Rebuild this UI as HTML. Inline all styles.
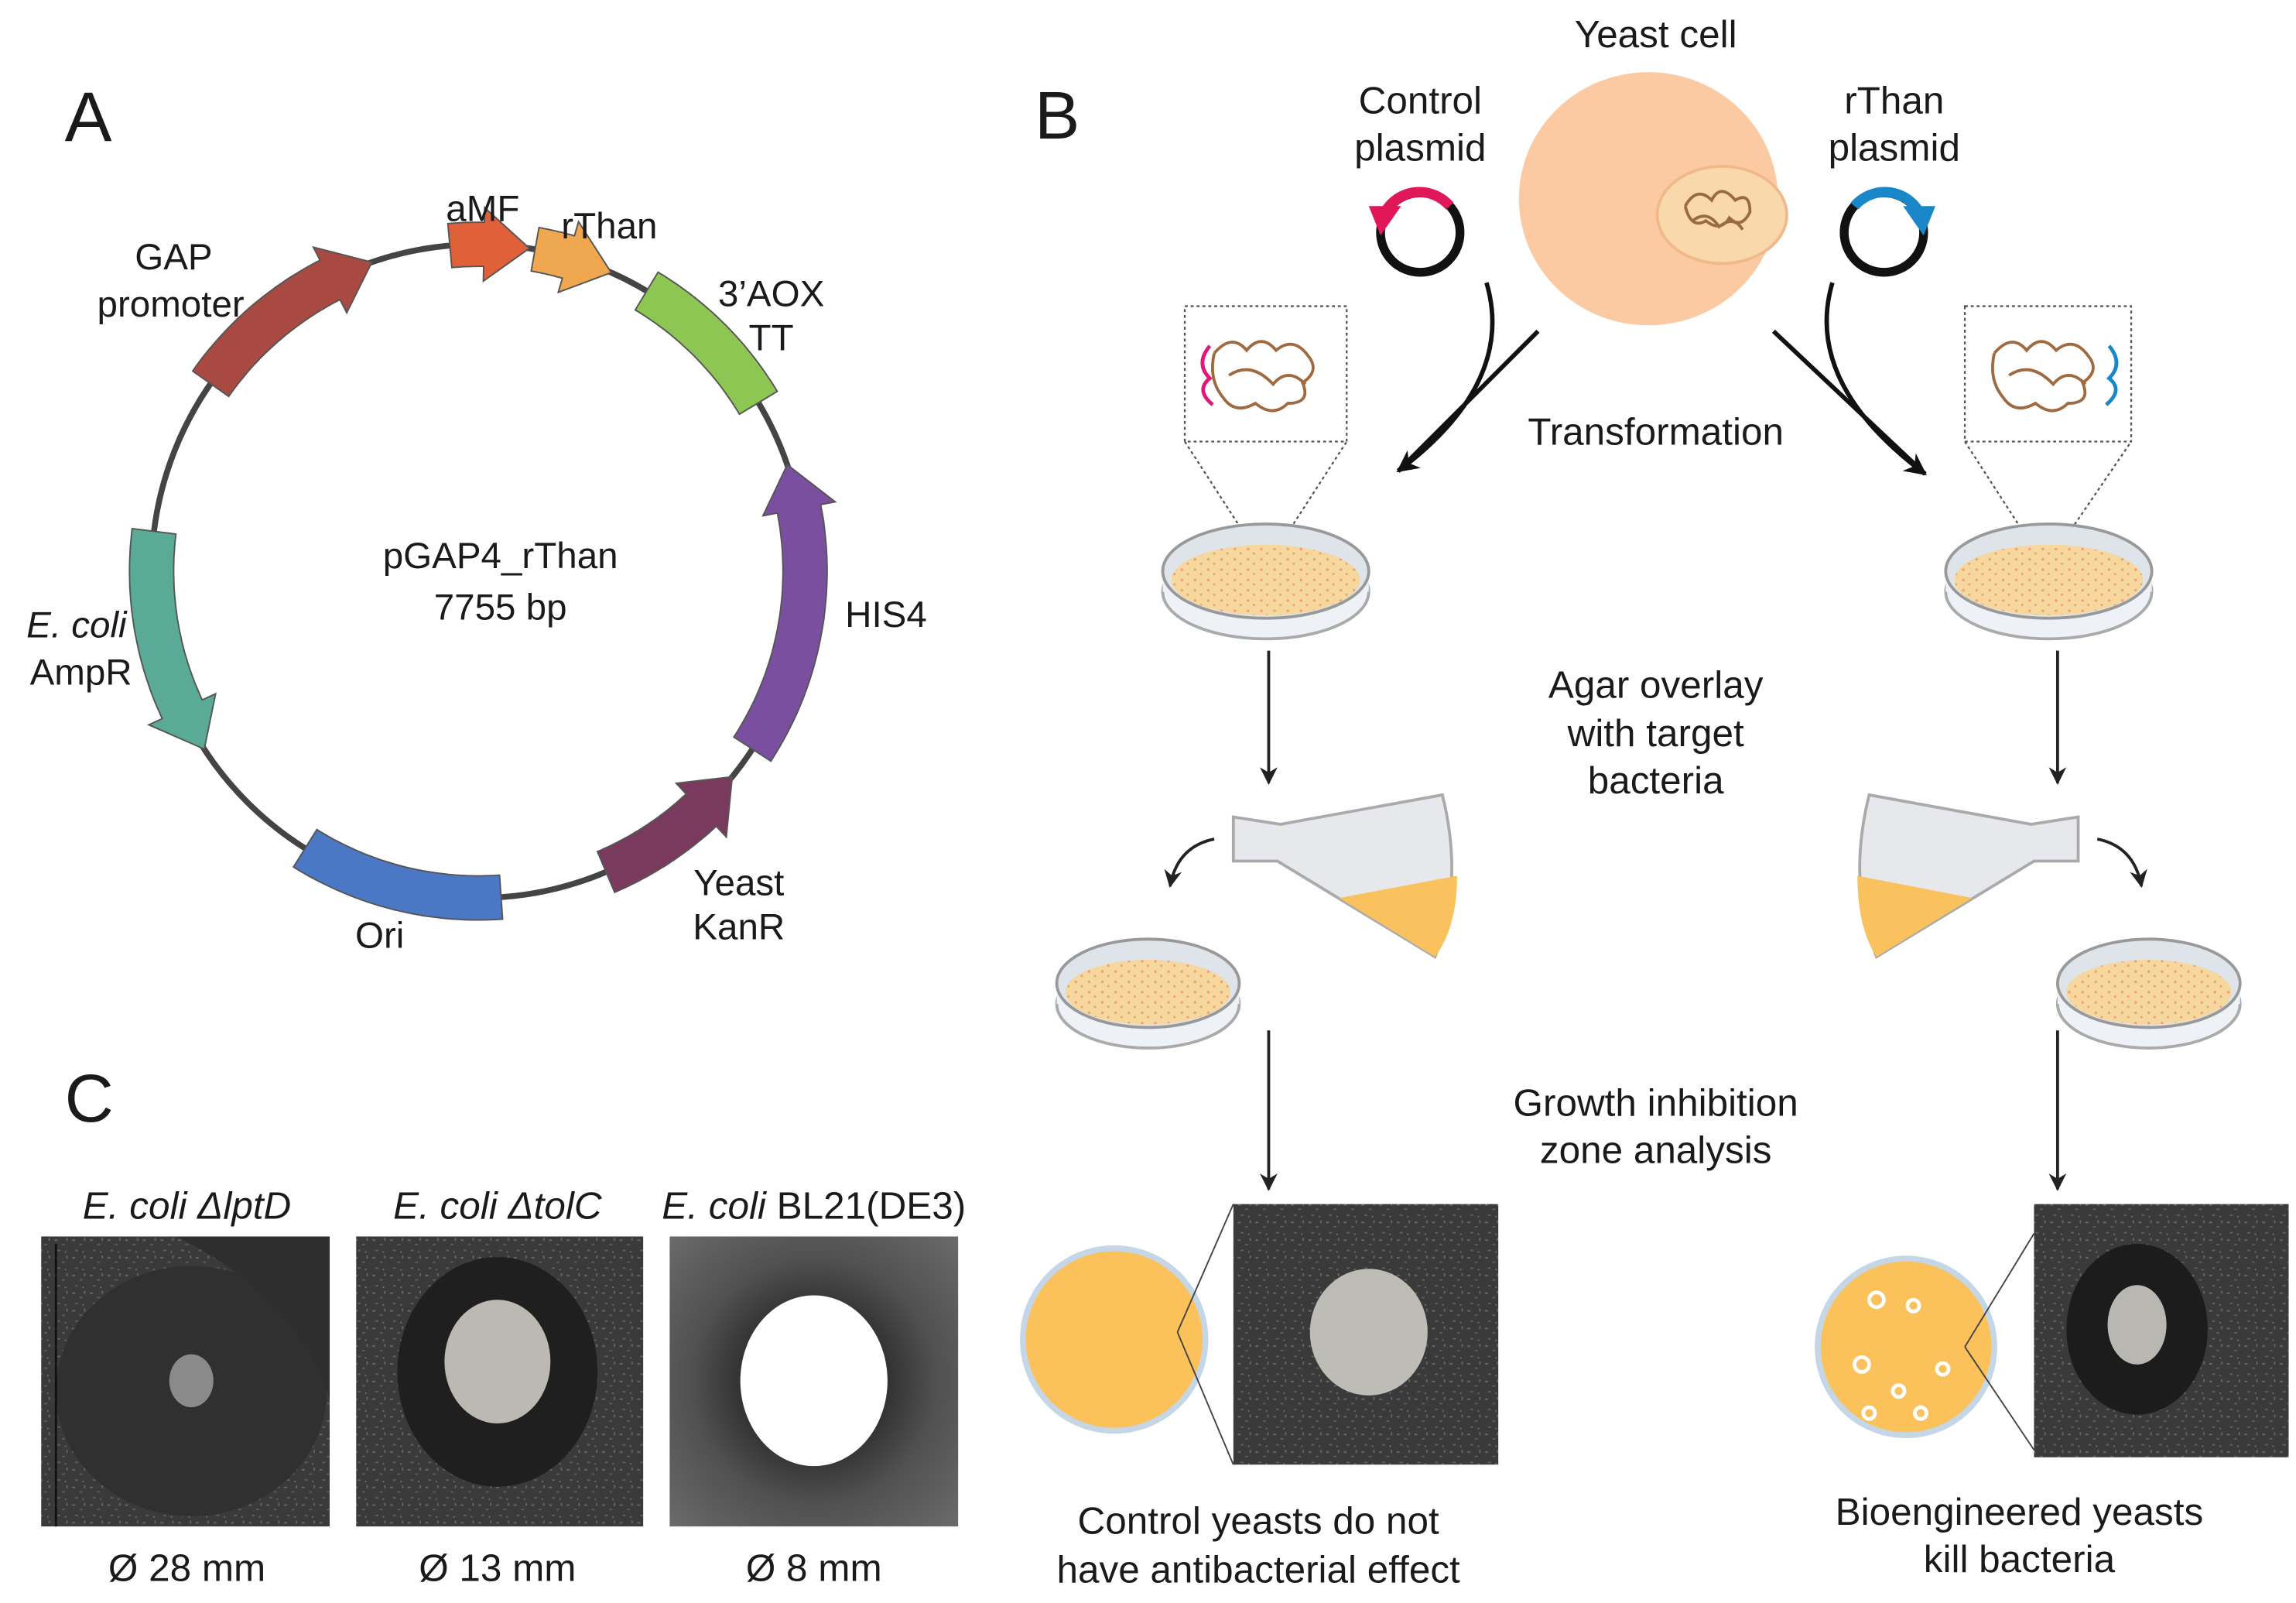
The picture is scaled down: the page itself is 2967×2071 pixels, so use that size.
<!DOCTYPE html>
<html><head><meta charset="utf-8"><style>
html,body{margin:0;padding:0;background:#fff}
svg{display:block}
text{font-family:"Liberation Sans",sans-serif;fill:#1a1a1a}
</style></head><body>
<svg id="s" width="2967" height="2071" viewBox="0 0 1560 1089" preserveAspectRatio="none" xmlns="http://www.w3.org/2000/svg">
<defs>
<pattern id="sp" width="12" height="12" patternUnits="userSpaceOnUse">
<rect width="12" height="12" fill="#3a3a3a"/>
<rect x="1" y="2" width="2" height="1" fill="#6a6a6a"/><rect x="6" y="5" width="2" height="1" fill="#5c5c5c"/>
<rect x="9" y="1" width="1" height="2" fill="#666"/><rect x="3" y="9" width="2" height="1" fill="#606060"/>
<rect x="8" y="10" width="1" height="1" fill="#707070"/>
</pattern>
<pattern id="dots" width="9" height="7" patternUnits="userSpaceOnUse">
<rect width="9" height="7" fill="#f6d79e"/><circle cx="2" cy="2" r="0.9" fill="#eea070"/><circle cx="6" cy="5" r="0.8" fill="#eea070"/>
</pattern>
<radialGradient id="g3" cx="0.5" cy="0.5" r="0.7"><stop offset="0.3" stop-color="#2a2a2a"/><stop offset="0.6" stop-color="#505050"/><stop offset="1" stop-color="#6a6a6a"/></radialGradient>
<marker id="ah" viewBox="0 0 10 10" refX="9" refY="5" markerWidth="6" markerHeight="6" orient="auto"><path d="M0,0 L10,5 L0,10 L3,5z" fill="#222"/></marker>
<marker id="ahb" viewBox="0 0 10 10" refX="9" refY="5" markerWidth="5" markerHeight="5" orient="auto"><path d="M0,0 L10,5 L0,10 L3,5z" fill="#111"/></marker>
</defs>

<!-- A -->
<text x="44" y="96" font-size="48">A</text>
<circle cx="325" cy="388" r="222" fill="none" stroke="#444" stroke-width="4"/>
<g id="segs"></g>
<g font-size="25" text-anchor="middle">
<text x="328" y="150">aMF</text>
<text x="414" y="162">rThan</text>
<text x="118" y="183">GAP</text><text x="116" y="215">promoter</text>
<text x="524" y="208">3’AOX</text><text x="524" y="238">TT</text>
<text x="602" y="426">HIS4</text>
<text x="502" y="608">Yeast</text><text x="502" y="638">KanR</text>
<text x="258" y="644">Ori</text>
<text x="52" y="433" font-style="italic">E. coli</text><text x="55" y="465">AmpR</text>
<text x="340" y="386">pGAP4_rThan</text><text x="340" y="421">7755 bp</text>
</g>

<!-- B -->
<text x="703" y="94" font-size="46">B</text>
<g font-size="26" text-anchor="middle">
<text x="1125" y="32">Yeast cell</text>
<text x="965" y="77">Control</text><text x="965" y="109">plasmid</text>
<text x="1287" y="77">rThan</text><text x="1287" y="109">plasmid</text>
<text x="1125" y="302">Transformation</text>
<text x="1125" y="474">Agar overlay</text><text x="1125" y="507">with target</text><text x="1125" y="539">bacteria</text>
<text x="1125" y="758">Growth inhibition</text><text x="1125" y="790">zone analysis</text>
<text x="855" y="1042">Control yeasts do not</text><text x="855" y="1075">have antibacterial effect</text>
<text x="1372" y="1036">Bioengineered yeasts</text><text x="1372" y="1068">kill bacteria</text>
</g>
<ellipse cx="1120" cy="135" rx="88" ry="86" fill="#fccaa2"/>
<ellipse cx="1170" cy="146" rx="44" ry="33" fill="#f9d8ab" stroke="#f1b98a" stroke-width="2"/>
<path d="M1145,140 q8,-14 18,-4 q6,-12 16,0 q10,-6 10,8 q-6,12 -14,4 q-6,10 -16,2 q-10,6 -14,-10 M1150,150 q10,-8 18,4 q10,-8 16,2" fill="none" stroke="#9a6a40" stroke-width="2"/>
<!-- plasmids -->
<circle cx="965" cy="158" r="27" fill="none" stroke="#111" stroke-width="6"/>
<path d="M985,140 A27,27 0 0 0 940,146" fill="none" stroke="#e0185a" stroke-width="7"/>
<path d="M930,140 L952,140 L938,160z" fill="#e0185a"/>
<circle cx="1280" cy="158" r="27" fill="none" stroke="#111" stroke-width="6"/>
<path d="M1260,140 A27,27 0 0 1 1305,146" fill="none" stroke="#1a88c8" stroke-width="7"/>
<path d="M1315,140 L1293,140 L1307,160z" fill="#1a88c8"/>
<!-- transformation arrows -->
<path d="M1010,192 Q1030,260 950,320" fill="none" stroke="#111" stroke-width="3" marker-end="url(#ahb)"/>
<path d="M1045,225 L950,320" fill="none" stroke="#111" stroke-width="3"/>
<path d="M1245,192 Q1225,260 1308,322" fill="none" stroke="#111" stroke-width="3" marker-end="url(#ahb)"/>
<path d="M1205,225 L1308,322" fill="none" stroke="#111" stroke-width="3"/>
<!-- dotted boxes -->
<g fill="none" stroke="#555" stroke-width="1.2" stroke-dasharray="2,2">
<rect x="805" y="208" width="110" height="92" fill="#fff"/>
<path d="M805,300 L860,385 L915,300"/>
<rect x="1335" y="208" width="113" height="92" fill="#fff"/>
<path d="M1335,300 L1390,385 L1448,300"/>
</g>
<path d="M822,235 q-10,12 0,22 q-10,8 2,18" fill="none" stroke="#e0187a" stroke-width="2.5"/>
<path d="M825,240 q12,-14 22,-2 q10,-12 20,0 q12,-10 22,4 q8,10 -4,18 q6,14 -10,14 q-10,10 -22,0 q-14,8 -22,-4 q-10,-12 -6,-30 M835,255 q15,-10 30,6 q10,-12 22,0" fill="none" stroke="#a06a40" stroke-width="2"/>
<path d="M1433,235 q10,12 0,22 q10,8 -2,18" fill="none" stroke="#1a88c8" stroke-width="2.5"/>
<path d="M1355,240 q12,-14 22,-2 q10,-12 20,0 q12,-10 22,4 q8,10 -4,18 q6,14 -10,14 q-10,10 -22,0 q-14,8 -22,-4 q-10,-12 -6,-30 M1365,255 q15,-10 30,6 q10,-12 22,0" fill="none" stroke="#a06a40" stroke-width="2"/>
<!-- petri dishes -->
<g id="dishes"></g>
<!-- down arrows -->
<g stroke="#222" stroke-width="2" marker-end="url(#ah)">
<line x1="862" y1="442" x2="862" y2="532"/><line x1="1398" y1="442" x2="1398" y2="532"/>
<line x1="862" y1="700" x2="862" y2="808"/><line x1="1398" y1="700" x2="1398" y2="808"/>
</g>
<!-- flasks -->
<g>
<path d="M838,555 L870,560 L980,540 Q995,600 975,650 L868,585 L838,585z" fill="#e6e8ec" stroke="#aaa" stroke-width="2"/>
<path d="M910,610 L990,595 Q990,630 975,650z" fill="#f9c25e"/>
<path d="M1412,555 L1380,560 L1270,540 Q1255,600 1275,650 L1382,585 L1412,585z" fill="#e6e8ec" stroke="#aaa" stroke-width="2"/>
<path d="M1340,610 L1262,595 Q1262,630 1275,650z" fill="#f9c25e"/>
<path d="M825,570 Q800,575 795,602" fill="none" stroke="#222" stroke-width="2" marker-end="url(#ah)"/>
<path d="M1425,570 Q1450,575 1455,602" fill="none" stroke="#222" stroke-width="2" marker-end="url(#ah)"/>
</g>
<!-- bottom B -->
<circle cx="757" cy="910" r="62" fill="#fbc15a" stroke="#c5d6e6" stroke-width="4"/>
<rect x="838" y="818" width="180" height="177" fill="url(#sp)"/>
<ellipse cx="930" cy="905" rx="40" ry="43" fill="#bdbcb6"/>
<path d="M800,905 L838,818 M800,905 L838,995" stroke="#444" stroke-width="1" fill="none"/>
<circle cx="1295" cy="915" r="60" fill="#fbc15a" stroke="#c5d6e6" stroke-width="4"/>
<g fill="none" stroke="#fff" stroke-width="2.5"><circle cx="1275" cy="883" r="5"/><circle cx="1300" cy="887" r="4"/><circle cx="1265" cy="927" r="5"/><circle cx="1290" cy="945" r="4"/><circle cx="1320" cy="930" r="4"/><circle cx="1270" cy="960" r="4"/><circle cx="1305" cy="960" r="4"/></g>
<rect x="1382" y="818" width="173" height="172" fill="url(#sp)"/>
<ellipse cx="1452" cy="903" rx="48" ry="58" fill="#1c1c1c"/>
<ellipse cx="1452" cy="900" rx="20" ry="27" fill="#b8b7b2"/>
<path d="M1335,915 L1382,838 M1335,915 L1382,985" stroke="#444" stroke-width="1" fill="none"/>

<!-- C -->
<text x="44" y="762" font-size="46">C</text>
<g font-size="26" text-anchor="middle" font-style="italic">
<text x="127" y="828">E. coli ΔlptD</text>
<text x="338" y="828">E. coli ΔtolC</text>
<text x="553" y="828"><tspan>E. coli</tspan><tspan font-style="normal"> BL21(DE3)</tspan></text>
</g>
<g font-size="26" text-anchor="middle">
<text x="127" y="1074">Ø 28 mm</text><text x="338" y="1074">Ø 13 mm</text><text x="553" y="1074">Ø 8 mm</text>
</g>
<rect x="28" y="840" width="196" height="197" fill="url(#sp)"/>
<ellipse cx="130" cy="945" rx="92" ry="85" fill="#303030"/>
<path d="M120,840 L224,840 L224,950 Q200,880 120,840z" fill="#2e2e2e"/>
<line x1="38" y1="845" x2="38" y2="1037" stroke="#111" stroke-width="1.5"/>
<ellipse cx="130" cy="938" rx="15" ry="18" fill="#8a8a8a"/>
<rect x="242" y="840" width="195" height="197" fill="url(#sp)"/>
<ellipse cx="338" cy="932" rx="68" ry="78" fill="#1f1f1f"/>
<ellipse cx="338" cy="925" rx="36" ry="42" fill="#bbb9b2"/>
<rect x="455" y="840" width="196" height="197" fill="url(#g3)"/>
<ellipse cx="553" cy="938" rx="50" ry="58" fill="#fff"/>
</svg>
<script>
(function(){
var cx=325,cy=388,R=222,ns="http://www.w3.org/2000/svg";
function P(a,r){var t=a*Math.PI/180;return [cx+r*Math.sin(t),cy-r*Math.cos(t)];}
function seg(a1,a2,col,head){
 var w=15,H=25;var n=30;var ae=head?a2-(a2>a1?1:-1)*8:a2;
 var pts=[];
 for(var i=0;i<=n;i++){var a=a1+(ae-a1)*i/n;pts.push(P(a,R+w));}
 if(head){pts.push(P(ae,R+H));pts.push(P(a2,R));pts.push(P(ae,R-H));}
 for(var i=n;i>=0;i--){var a=a1+(ae-a1)*i/n;pts.push(P(a,R-w));}
 var p=document.createElementNS(ns,"path");
 p.setAttribute("d","M"+pts.map(function(q){return q[0].toFixed(1)+","+q[1].toFixed(1)}).join(" L")+"Z");
 p.setAttribute("fill",col);p.setAttribute("stroke","#555");p.setAttribute("stroke-width","1");
 document.getElementById("segs").appendChild(p);
}
seg(-55,-19,"#a84a42",1);
seg(-5,9,"#e0603a",1);
seg(10,24,"#f0a850",1);
seg(31,59,"#8dc653",0);
seg(123,71,"#7b4fa0",1);
seg(157,129,"#7a3a5e",1);
seg(212,176,"#4a78c4",0);
seg(-83,-123,"#5aaa98",1);
var g=document.getElementById("dishes");
[[860,388,70,32],[1392,388,70,32],[780,668,62,30],[1460,668,62,30]].forEach(function(d){
 var x=d[0],y=d[1],rx=d[2],ry=d[3];
 g.insertAdjacentHTML("beforeend",
 '<ellipse cx="'+x+'" cy="'+(y+14)+'" rx="'+rx+'" ry="'+ry+'" fill="#eef1f5" stroke="#aaa" stroke-width="2"/>'+
 '<rect x="'+(x-rx)+'" y="'+y+'" width="'+(2*rx)+'" height="14" fill="#eef1f5"/>'+
 '<ellipse cx="'+x+'" cy="'+y+'" rx="'+rx+'" ry="'+ry+'" fill="#dfe4ea" stroke="#999" stroke-width="2"/>'+
 '<ellipse cx="'+x+'" cy="'+(y+6)+'" rx="'+(rx-6)+'" ry="'+(ry-8)+'" fill="url(#dots)"/>');
});
})();
</script>
</body></html>
